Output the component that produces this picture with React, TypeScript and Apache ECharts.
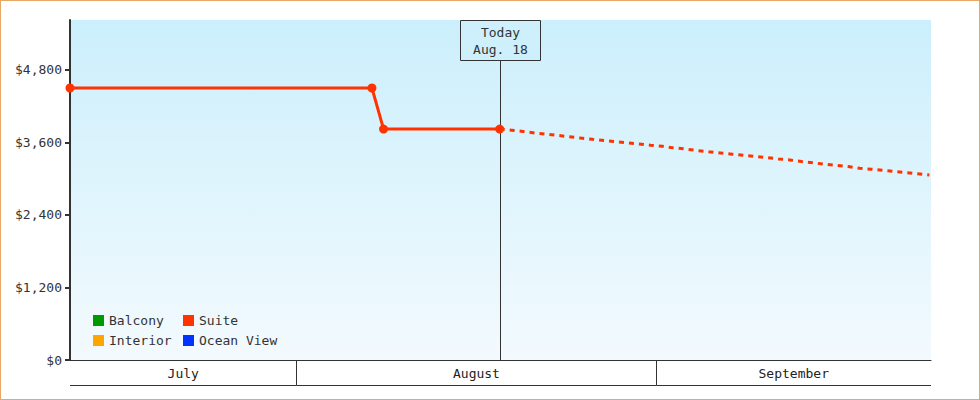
import React, { useEffect, useRef } from "react";
import * as echarts from "echarts";

// ---- data ----
const legendColumnA = ["Balcony", "Interior"];
const legendColumnB = ["Suite", "Ocean View"];
const seriesColors: Record<string, string> = {
  Balcony: "#009900",
  Suite: "#FF3300",
  Interior: "#FFA500",
  "Ocean View": "#0033FF",
};

const suiteDates = ["2024-07-12", "2024-08-07", "2024-08-08", "2024-08-18"];
const suiteValues = [4500, 4500, 3820, 3820];

const forecastStart = "2024-08-18";
const forecastValues = [
  3820, 3802, 3782, 3757, 3737, 3716, 3694, 3671, 3651, 3632, 3613, 3593, 3574,
  3554, 3536, 3509, 3491, 3466, 3444, 3425, 3405, 3385, 3367, 3347, 3327, 3309,
  3284, 3262, 3239, 3221, 3201, 3171, 3156, 3138, 3118, 3100, 3080, 3060,
];

const monthNames = ["July", "August", "September"];
const monthStarts = ["2024-07-01", "2024-08-01", "2024-09-01", "2024-10-01"];

const todayDate = "2024-08-18";
const todayLabel = "Today\nAug. 18";

const xMinDate = "2024-07-12T12:00";
const xMaxDate = "2024-09-24T15:20";

const yTicks = [0, 1200, 2400, 3600, 4800];
const yMax = 5625;

const FONT = "DejaVu Sans Mono";

function noon(d: string): number {
  const [y, m, dd] = d.split("-").map(Number);
  return new Date(y, m - 1, dd, 12).getTime();
}
function parseDT(s: string): number {
  const [d, t] = s.split("T");
  const [y, m, dd] = d.split("-").map(Number);
  const [hh, mm] = (t || "0:0").split(":").map(Number);
  return new Date(y, m - 1, dd, hh, mm).getTime();
}
function midnight(d: string): number {
  const [y, m, dd] = d.split("-").map(Number);
  return new Date(y, m - 1, dd).getTime();
}

export default function App() {
  const ref = useRef<HTMLDivElement>(null);

  useEffect(() => {
    if (!ref.current) return;
    const chart = echarts.init(ref.current, null, { renderer: "svg" });

    const xMin = parseDT(xMinDate);
    const xMax = parseDT(xMaxDate);
    const DAY = 86400000;

    const suiteData = suiteDates.map((d, i) => [noon(d), suiteValues[i]]);
    const fStart = noon(forecastStart);
    const forecastData = forecastValues.map((v, i) => [fStart + i * DAY, v]);
    const monthData = monthNames.map((_, i) => [
      midnight(monthStarts[i]),
      midnight(monthStarts[i + 1]),
      0,
    ]);
    const todayT = noon(todayDate);

    const legendBase = {
      orient: "vertical" as const,
      top: 314,
      padding: 0,
      itemWidth: 11,
      itemHeight: 11,
      itemGap: 7,
      icon: "rect",
      selectedMode: false,
      textStyle: { fontFamily: FONT, fontSize: 13, color: "#333" },
    };

    const option: any = {
      animation: false,
      textStyle: { fontFamily: FONT },
      grid: {
        left: 70,
        right: 49,
        top: 20,
        bottom: 40,
        show: true,
        borderWidth: 0,
        backgroundColor: new echarts.graphic.LinearGradient(0, 0, 0, 1, [
          { offset: 0, color: "#CBEFFC" },
          { offset: 1, color: "#F3FAFE" },
        ]),
      },
      legend: [
        { ...legendBase, left: 93, data: legendColumnA },
        { ...legendBase, left: 183, data: legendColumnB },
      ],
      xAxis: {
        type: "time",
        min: xMin,
        max: xMax,
        axisLine: { show: true, lineStyle: { color: "#333", width: 1 } },
        axisTick: { show: false },
        axisLabel: { show: false },
        splitLine: { show: false },
      },
      yAxis: {
        type: "value",
        min: 0,
        max: yMax,
        interval: 1200,
        axisLine: { show: true, lineStyle: { color: "#333", width: 2 } },
        axisTick: {
          show: true,
          length: 5,
          lineStyle: { color: "#333", width: 2 },
          customValues: yTicks,
        },
        axisLabel: {
          margin: 8,
          fontFamily: FONT,
          fontSize: 13,
          color: "#333",
          customValues: yTicks,
          formatter: (v: number) => "$" + v.toLocaleString("en-US"),
        },
        splitLine: { show: false },
      },
      series: [
        { name: "Balcony", type: "line", data: [], color: seriesColors.Balcony },
        {
          name: "Suite forecast",
          type: "line",
          data: forecastData,
          color: seriesColors.Suite,
          showSymbol: false,
          symbol: "none",
          lineStyle: { width: 3, type: [5, 5], color: seriesColors.Suite },
          z: 2,
          silent: true,
        },
        {
          name: "Suite",
          type: "line",
          data: suiteData,
          color: seriesColors.Suite,
          symbol: "circle",
          symbolSize: 9,
          showSymbol: true,
          lineStyle: { width: 3, color: seriesColors.Suite },
          itemStyle: { color: seriesColors.Suite },
          z: 3,
        },
        { name: "Interior", type: "line", data: [], color: seriesColors.Interior },
        { name: "Ocean View", type: "line", data: [], color: seriesColors["Ocean View"] },
        {
          name: "today",
          type: "custom",
          silent: true,
          clip: false,
          z: 1,
          encode: { x: 0, y: 1 },
          data: [[todayT, 0]],
          renderItem: (params: any, api: any) => {
            const cs = params.coordSys;
            const x = Math.round(api.coord([api.value(0), 0])[0]) + 0.5;
            const top = cs.y + 0.5;
            const bottom = cs.y + cs.height;
            return {
              type: "group",
              children: [
                {
                  type: "line",
                  shape: { x1: x, y1: top + 40, x2: x, y2: bottom },
                  style: { stroke: "#333", lineWidth: 1 },
                },
                {
                  type: "rect",
                  shape: { x: x - 40, y: top, width: 80, height: 40 },
                  style: { fill: "#CDF0FC", stroke: "#333", lineWidth: 1 },
                },
                {
                  type: "text",
                  x: x,
                  y: top + 20.5,
                  style: {
                    text: todayLabel,
                    fill: "#333",
                    font: `13px "${FONT}"`,
                    align: "center",
                    verticalAlign: "middle",
                    lineHeight: 17,
                  },
                },
              ],
            };
          },
        },
        {
          name: "months",
          type: "custom",
          silent: true,
          clip: false,
          encode: { x: [0, 1], y: 2 },
          data: monthData,
          renderItem: (params: any, api: any) => {
            const cs = params.coordSys;
            const left = cs.x;
            const right = cs.x + cs.width;
            let x0 = api.coord([api.value(0), 0])[0];
            let x1 = api.coord([api.value(1), 0])[0];
            x0 = Math.max(x0, left);
            x1 = Math.min(x1, right);
            if (x1 <= x0) return null;
            const y = cs.y + cs.height;
            const children: any[] = [
              {
                type: "text",
                x: (x0 + x1) / 2,
                y: y + 13,
                style: {
                  text: monthNames[params.dataIndex],
                  fill: "#222",
                  font: `13px "${FONT}"`,
                  align: "center",
                  verticalAlign: "middle",
                },
              },
              {
                type: "line",
                shape: { x1: x0, y1: y + 25.5, x2: x1, y2: y + 25.5 },
                style: { stroke: "#333", lineWidth: 1 },
              },
            ];
            if (x1 < right - 0.5) {
              const sx = Math.round(x1) + 0.5;
              children.push({
                type: "line",
                shape: { x1: sx, y1: y, x2: sx, y2: y + 25.5 },
                style: { stroke: "#333", lineWidth: 1 },
              });
            }
            return { type: "group", children };
          },
        },
      ],
    };

    chart.setOption(option);
    return () => chart.dispose();
  }, []);

  return (
    <div style={{ position: "absolute", left: 0, top: 0, width: 980, height: 400, background: "#fff" }}>
      <div ref={ref} style={{ position: "absolute", left: 0, top: 0, width: 980, height: 400 }} />
      <div
        style={{
          position: "absolute",
          left: 0,
          top: 0,
          width: 980,
          height: 400,
          boxSizing: "border-box",
          border: "1px solid #E6A862",
          pointerEvents: "none",
        }}
      />
    </div>
  );
}
